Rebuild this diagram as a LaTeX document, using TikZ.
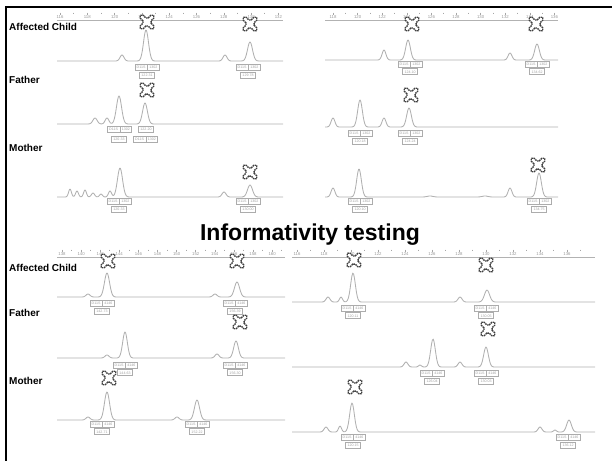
\documentclass[tikz,border=0pt]{standalone}
\usepackage{fontspec}
\setmainfont{Liberation Sans}
\usetikzlibrary{shapes.multipart}

% one Gaussian-like peak of a trace, clipped far from its centre
\tikzset{
  declare function={pk(\pa,\pb,\pc,\pd)=\pc*exp(-pow(min(abs(\pa-\pb)/\pd,4),2));},
  trace/.style={draw=gray!62, line width=0.85pt, line join=round},
  rulerline/.style={draw=gray!60, line width=1.7pt},
  rulertick/.style={draw=gray!70, line width=0.6pt},
  rulerlab/.style={text=gray!80, font=\fontsize{4.3}{4.8}\selectfont, inner sep=0pt},
  rowlab/.style={anchor=west, inner sep=0pt, font=\bfseries\fontsize{10}{12}\selectfont},
  heading/.style={anchor=base, inner sep=0pt, font=\bfseries\fontsize{23}{26}\selectfont},
  mkline/.style={draw=black!75, fill=white, line width=1.3pt,
    dash pattern=on 1.5pt off 0.7pt, rounded corners=1.8pt},
  cellpair/.style={rectangle split, rectangle split horizontal, rectangle split parts=2,
    draw=gray!65, line width=0.7pt, text=gray!75, inner xsep=1.6pt, inner ysep=0.9pt,
    minimum height=6pt, font=\fontsize{3.6}{4}\selectfont},
  cellone/.style={draw=gray!65, line width=0.7pt, text=gray!75, inner xsep=1.8pt,
    inner ysep=0.9pt, minimum height=6pt, font=\fontsize{3.6}{4}\selectfont}
}

% trace: x-from, x-to, baseline, sum of peaks
\newcommand\tracecurve[4]{\draw[trace] plot[domain=#1:#2, samples=340] (\x,{#3-(#4)});}

% size ruler: name, x-from, x-to, baseline, first label x, step, labels
\newcommand\rulerbar[7]{%
  \draw[rulerline] (#2,#4) -- (#3,#4);
  \foreach \lab [count=\i from 0] in {#7} {
    \pgfmathsetmacro\tx{#5+\i*#6}
    \draw[rulertick] (\tx,#4-8) -- (\tx,#4-5.4);
    \pgfmathparse{(\tx+#6/2)<(#3-2)}
    \ifnum\pgfmathresult=1 \draw[rulertick] (\tx+#6/2,#4-8) -- (\tx+#6/2,#4-6.6);\fi
    \node[rulerlab] (#1-\i) at (\tx,#4-3.2) {\lab};
  }}

% allele call: name, x, y, marker cell, size
\newcommand\call[5]{%
  \node[cellpair] (#1a) at (#2,#3) {\nodepart{one}D11S\nodepart{two}#4};
  \node[cellone] (#1b) at (#2,#3+7.8) {#5};}

% called-peak flag: an X-shaped badge
\newcommand\flag[3]{%
  \coordinate (#1) at (#2,#3);
  \begin{scope}[shift={(#1)}]
    \draw[mkline] (0,-2.8) -- (5,-8) -- (8,-5) -- (2.8,0) -- (8,5) -- (5,8) -- (0,2.8)
      -- (-5,8) -- (-8,5) -- (-2.8,0) -- (-8,-5) -- (-5,-8) -- cycle;
  \end{scope}}

\begin{document}
\begin{tikzpicture}[x=1pt,y=-1pt]
\useasboundingbox (0,0) rectangle (612,461);

% frame
\draw[line width=2.5pt] (612,7) -- (6,7) -- (6,461);

% row labels
\node[rowlab] (lc1) at (9,27) {Affected Child};
\node[rowlab] (lf1) at (9,80) {Father};
\node[rowlab] (lm1) at (9,148) {Mother};
\node[rowlab] (lc2) at (9,268) {Affected Child};
\node[rowlab] (lf2) at (9,313) {Father};
\node[rowlab] (lm2) at (9,381) {Mother};

\node[heading] (ttl) at (310,240) {Informativity testing};

% ---------- upper marker ----------
\rulerbar{ra}{57}{283}{20.5}{60}{27.3}{116,118,120,122,124,126,128,130,132}
\rulerbar{rb}{325}{558}{20.5}{333}{24.6}{118,120,122,124,126,128,130,132,134,136}

\tracecurve{57}{283}{61}{pk(\x,122,6,2.8)+pk(\x,146,31,3.5)+pk(\x,225,6,2.8)+pk(\x,250,19,3.5)}
\tracecurve{325}{558}{60}{pk(\x,384,10,2.7)+pk(\x,408,20,3.3)+pk(\x,510,7,2.7)+pk(\x,537,16,3.3)}
\tracecurve{57}{283}{124}{pk(\x,95,6,3)+pk(\x,107,6,2.6)+pk(\x,119,28,3.6)+pk(\x,145,21,3.4)}
\tracecurve{325}{558}{127}{pk(\x,333,9,2.7)+pk(\x,360,27,3.3)+pk(\x,384,9,2.7)+pk(\x,409,19,3.3)}
\tracecurve{57}{283}{197}{pk(\x,70,8,2)+pk(\x,77,6,2)+pk(\x,85,7,2)+pk(\x,93,4,2.2)+pk(\x,101,3,2)+pk(\x,110,6,2.2)+pk(\x,120,29,3.6)+pk(\x,224,5,2.8)+pk(\x,250,12,3.5)}
\tracecurve{325}{558}{197}{pk(\x,333,9,2.7)+pk(\x,359,28,3.3)+pk(\x,430,1,4)+pk(\x,485,1,4)+pk(\x,510,9,2.7)+pk(\x,539,24,3.3)}

\flag{ma1}{147}{22}
\flag{ma2}{250}{24}
\flag{mb1}{412}{24}
\flag{mb2}{536}{24}
\flag{ma3}{147}{90}
\flag{mb3}{411}{95}
\flag{ma4}{250}{172}
\flag{mb4}{538}{165}

\call{ca1}{147}{67.5}{1302}{122.31}
\call{ca2}{248}{67.5}{1302}{129.78}
\call{cb1}{410}{64}{1302}{124.10}
\call{cb2}{537}{64}{1302}{134.62}
% father, left panel: the two calls overlap, so the second one is stacked the other way
\node[cellpair] (ca3a) at (119.5,129.5) {\nodepart{one}D11S\nodepart{two}1302};
\node[cellone] (ca3b) at (119,139) {120.33};
\node[cellone] (ca4a) at (146,129.5) {122.20};
\node[cellpair] (ca4b) at (145.5,139) {\nodepart{one}D11S\nodepart{two}1302};
\call{cb3}{360}{133.5}{1302}{120.18}
\call{cb4}{410}{133.5}{1302}{124.24}
\call{ca5}{119}{201.5}{1302}{120.33}
\call{ca6}{248}{201.5}{1302}{130.00}
\call{cb5}{360}{201.5}{1302}{120.10}
\call{cb6}{539}{201.5}{1302}{134.75}

% ---------- lower marker ----------
\rulerbar{rc}{57}{285}{257.5}{62}{19.1}{138,140,142,144,146,148,150,152,154,156,158,160}
\rulerbar{rd}{292}{595}{257.5}{297}{27}{116,118,120,122,124,126,128,130,132,134,136}

\tracecurve{57}{285}{297}{pk(\x,88,3,2.8)+pk(\x,107,24,3.6)+pk(\x,215,3,2.8)+pk(\x,237,15,3.6)}
\tracecurve{292}{595}{302}{pk(\x,328,5,2.7)+pk(\x,341,5,2.1)+pk(\x,353,29,3.3)+pk(\x,460,5,2.8)+pk(\x,487,12,3.6)}
\tracecurve{57}{285}{358}{pk(\x,107,3,2.8)+pk(\x,125,26,3.3)+pk(\x,217,4,2.8)+pk(\x,236,17,3.3)}
\tracecurve{292}{595}{367}{pk(\x,406,5,2.7)+pk(\x,420,2,2)+pk(\x,433,28,3.3)+pk(\x,460,5,2.7)+pk(\x,486,20,3.3)}
\tracecurve{57}{285}{420}{pk(\x,88,3,2.8)+pk(\x,107,28,3.6)+pk(\x,177,3,2.8)+pk(\x,197,20,3.6)}
\tracecurve{292}{595}{432}{pk(\x,326,5,2.7)+pk(\x,340,6,2.1)+pk(\x,352,29,3.3)+pk(\x,540,5,2.7)+pk(\x,555,2,2)+pk(\x,569,12,3.3)}

\call{cc1}{102}{303.5}{4146}{142.73}
\call{cc2}{235}{303.5}{4146}{156.39}
\call{cd1}{353}{308}{4146}{120.11}
\call{cd2}{486}{308}{4146}{130.05}
\call{cc3}{125}{365}{4146}{144.63}
\call{cc4}{235}{365}{4146}{156.30}
\call{cd3}{432}{373.5}{4146}{126.04}
\call{cd4}{486}{373.5}{4146}{130.03}
\call{cc5}{102}{424}{4146}{142.71}
\call{cc6}{197}{424}{4146}{152.22}
\call{cd5}{353}{437.5}{4146}{120.15}
\call{cd6}{568}{437.5}{4146}{136.12}

\flag{mc1}{108}{261}
\flag{mc2}{237}{261}
\flag{md1}{354}{260}
\flag{md2}{486}{265}
\flag{mc3}{240}{322}
\flag{md3}{488}{329}
\flag{mc4}{109}{378}
\flag{md4}{355}{387}

\end{tikzpicture}
\end{document}
